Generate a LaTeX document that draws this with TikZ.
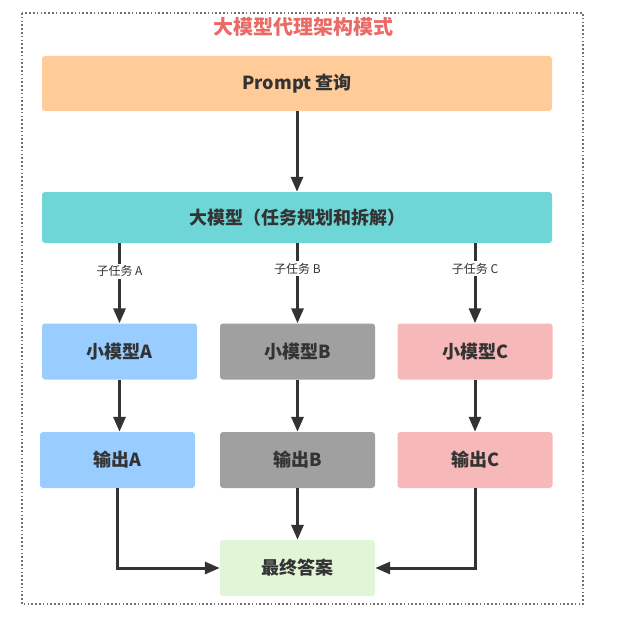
\documentclass[tikz,border=0pt]{standalone}
\usepackage{fontspec}
\setmainfont{Noto Sans CJK SC}
\usetikzlibrary{arrows.meta,calc}
\definecolor{txt}{HTML}{333333}
\definecolor{cprompt}{HTML}{FFCC99}
\definecolor{cbig}{HTML}{6ED6D7}
\definecolor{ca}{HTML}{99CCFF}
\definecolor{cb}{HTML}{A0A0A0}
\definecolor{cc}{HTML}{F6B8B8}
\definecolor{cfin}{HTML}{E1F5D7}
\definecolor{ctitle}{HTML}{EA6B66}
\definecolor{cframe}{HTML}{707070}
\begin{document}
\begin{tikzpicture}[x=1pt,y=-1pt,
  box/.style={rounded corners=3pt, draw=none, text=txt, font=\fontsize{18}{21}\selectfont\bfseries, inner sep=0pt},
  wide/.style={box, minimum width=510pt},
  narrow/.style={box, minimum width=155pt, minimum height=56pt},
  arr/.style={draw=txt, line width=3pt, -{Triangle[length=15pt,width=12pt]}},
  lbl/.style={fill=white, text=txt, font=\fontsize{12}{14}\selectfont, inner sep=2pt}
]
\useasboundingbox (0,0) rectangle (621,623);
\draw[cframe, line width=1.2pt, dash pattern=on 1.6pt off 2.2pt] (22,13) rectangle (583,604);
\node[font=\fontsize{20}{24}\selectfont\bfseries, text=ctitle] (title) at (303,27) {大模型代理架构模式};
\node[wide, fill=cprompt, minimum height=55pt] (prompt) at (297,83.5) {Prompt 查询};
\node[wide, fill=cbig, minimum height=51pt] (big) at (297,217.5) {大模型（任务规划和拆解）};
\node[narrow, fill=ca] (ma) at (119.5,351.5) {小模型A};
\node[narrow, fill=cb] (mb) at (297.5,351.5) {小模型B};
\node[narrow, fill=cc] (mc) at (475,351.5) {小模型C};
\node[narrow, fill=ca] (oa) at (117.5,460) {输出A};
\node[narrow, fill=cb] (ob) at (297.5,460) {输出B};
\node[narrow, fill=cc] (oc) at (475,460) {输出C};
\node[narrow, fill=cfin] (fin) at (297.5,568) {最终答案};
\draw[arr] (prompt.south) -- (big.north);
\draw[arr] (big.south -| ma.north) -- node[lbl, pos=0.35] {子任务 A} (ma.north);
\draw[arr] (big.south -| mb.north) -- node[lbl, pos=0.32] {子任务 B} (mb.north);
\draw[arr] (big.south -| mc.north) -- node[lbl, pos=0.32] {子任务 C} (mc.north);
\draw[arr] (ma.south) -- (ma.south |- oa.north);
\draw[arr] (mb.south) -- (ob.north);
\draw[arr] (mc.south) -- (oc.north);
\draw[arr] (oa.south) |- (fin.west);
\draw[arr] (ob.south) -- (fin.north);
\draw[arr] (oc.south) |- (fin.east);
\end{tikzpicture}
\end{document}
